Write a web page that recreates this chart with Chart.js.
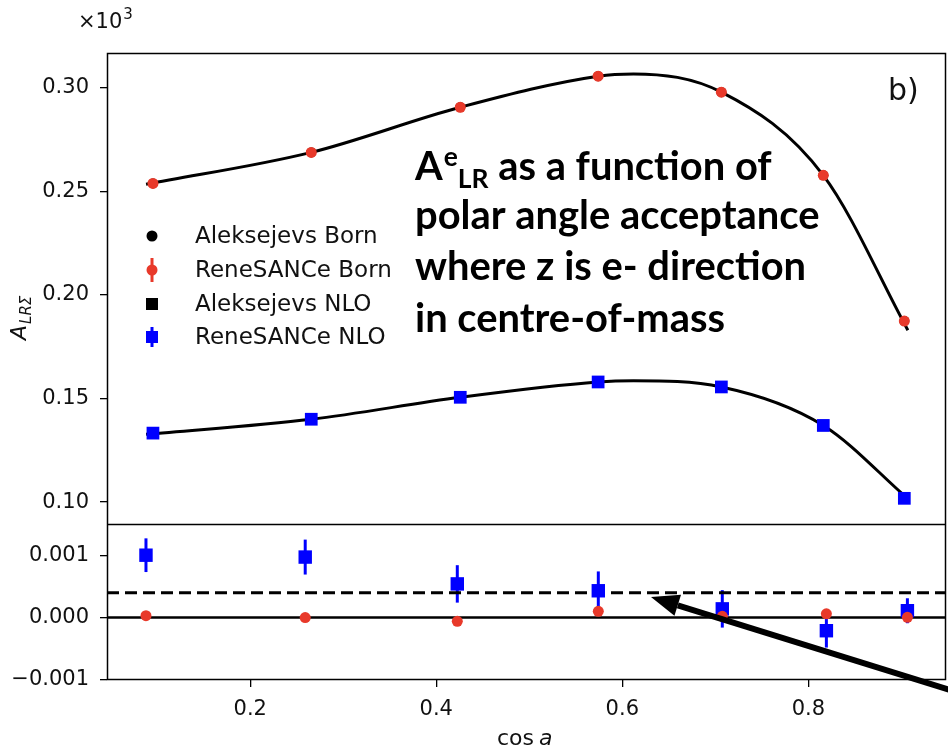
<!DOCTYPE html>
<html>
<head>
<meta charset="utf-8">
<script src="https://cdn.jsdelivr.net/npm/chart.js@4.4.1/dist/chart.umd.min.js"></script>
<style>
  html, body { margin: 0; padding: 0; background: #fff; }
  #wrap { width: 948px; height: 750px; }
</style>
</head>
<body>
<div id="wrap"><canvas id="chart" width="948" height="750"></canvas></div>
<script>
// top panel: A_LR vs cos a acceptance
const cosTop = [0.0954, 0.2656, 0.4258, 0.574, 0.7065, 0.8161, 0.9032];
const reneBorn = [0.2539, 0.2689, 0.2907, 0.3057, 0.298, 0.2578, 0.1874];
const reneNlo = [0.1333, 0.14, 0.1506, 0.158, 0.1556, 0.137, 0.1018];
// Aleksejevs points sit underneath the ReneSANCe markers
const aleksBorn = [0.2539, 0.2689, 0.2907, 0.3057, 0.298, 0.2578, 0.1874];
const aleksNlo = [0.1333, 0.14, 0.1506, 0.158, 0.1556, 0.137, 0.1018];

// smooth black curves
const cosCurve = [0.088, 0.2656, 0.4258, 0.574, 0.612, 0.7065, 0.8161, 0.907];
const bornCurve = [0.2535, 0.2689, 0.2907, 0.3057, 0.3068, 0.298, 0.2578, 0.183];
const nloCurve = [0.1327, 0.14, 0.1506, 0.158, 0.1586, 0.1556, 0.137, 0.1016];

// bottom panel: differences
const cosDiff = [0.0879, 0.2591, 0.4226, 0.5742, 0.7075, 0.8194, 0.9065];
const bornDiff = [0.00003, 0.0, -0.00006, 0.0001, 0.00002, 0.00006, 0.000005];
const nloDiff = [0.001, 0.00097, 0.00054, 0.00043, 0.00014, -0.00021, 0.00011];
const nloDiffErr = [0.00027, 0.00028, 0.0003, 0.00031, 0.0003, 0.00027, 0.0002];
const zeroLevel = 0.0;
const dashedLevel = 0.0004;

const xTicks = [0.2, 0.4, 0.6, 0.8];
const topTicks = [0.10, 0.15, 0.20, 0.25, 0.30];
const diffTicks = [-0.001, 0.0, 0.001];
const xMin = 0.046, xMax = 0.948;

const RED = '#e8392a';
const BLUE = '#0000ff';
const TICK_FONT = { family: 'DejaVu Sans', size: 21 };

const pts = (xs, ys) => xs.map((x, i) => ({ x: x, y: ys[i] }));

const legendItems = [
    { text: 'Aleksejevs Born', shape: 'circle', color: '#000', bar: 0 },
    { text: 'ReneSANCe Born', shape: 'circle', color: RED, bar: 12 },
    { text: 'Aleksejevs NLO', shape: 'square', color: '#000', bar: 0 },
    { text: 'ReneSANCe NLO', shape: 'square', color: BLUE, bar: 10 }
];

function fmtSigned(v, d) {
    const s = Math.abs(v).toFixed(d);
    return v < -1e-12 ? '\u2212' + s : s;
}

const extras = {
    id: 'extras',
    beforeDatasetsDraw(chart) {
        const ctx = chart.ctx;
        const x = chart.scales.x, yd = chart.scales.yd;
        ctx.save();
        ctx.strokeStyle = BLUE;
        ctx.lineWidth = 3;
        nloDiff.forEach((v, i) => {
            const px = x.getPixelForValue(cosDiff[i]);
            ctx.beginPath();
            ctx.moveTo(px, yd.getPixelForValue(v - nloDiffErr[i]));
            ctx.lineTo(px, yd.getPixelForValue(v + nloDiffErr[i]));
            ctx.stroke();
        });
        ctx.restore();
    },
    afterDatasetsDraw(chart) {
        const ctx = chart.ctx;
        const a = chart.chartArea;
        const sep = chart.scales.yd.top;
        ctx.save();
        // frame
        ctx.strokeStyle = '#000';
        ctx.lineWidth = 1.5;
        ctx.strokeRect(Math.round(a.left) + 0.5, Math.round(a.top) + 0.5,
            Math.round(a.right - a.left) - 1, Math.round(a.bottom - a.top) - 1);
        ctx.beginPath();
        ctx.moveTo(a.left, Math.round(sep) + 0.5);
        ctx.lineTo(a.right, Math.round(sep) + 0.5);
        ctx.stroke();

        // legend
        ctx.font = '23px "DejaVu Sans"';
        ctx.textBaseline = 'middle';
        ctx.textAlign = 'left';
        const ly = [236, 270, 304, 337];
        legendItems.forEach((it, i) => {
            const cx = 152, cy = ly[i];
            ctx.fillStyle = it.color;
            ctx.strokeStyle = it.color;
            if (it.bar) {
                ctx.lineWidth = 3;
                ctx.beginPath();
                ctx.moveTo(cx, cy - it.bar);
                ctx.lineTo(cx, cy + it.bar);
                ctx.stroke();
            }
            if (it.shape === 'circle') {
                ctx.beginPath();
                ctx.arc(cx, cy, 5.5, 0, Math.PI * 2);
                ctx.fill();
            } else {
                ctx.fillRect(cx - 6, cy - 6, 12, 12);
            }
            ctx.fillStyle = '#111';
            ctx.fillText(it.text, 195, cy + 1);
        });
        ctx.restore();
    },
    afterDraw(chart) {
        const ctx = chart.ctx;
        ctx.save();
        ctx.fillStyle = '#111';
        ctx.textBaseline = 'alphabetic';
        ctx.textAlign = 'left';

        // offset text
        ctx.font = '21px "DejaVu Sans"';
        ctx.fillText('\u00d710', 78, 28);
        const wOff = ctx.measureText('\u00d710').width;
        ctx.font = '15px "DejaVu Sans"';
        ctx.fillText('3', 78 + wOff + 1, 19);

        // panel tag
        ctx.font = '30px "DejaVu Sans"';
        ctx.fillText('b)', 888, 100);

        // y label
        ctx.save();
        ctx.translate(26, 340);
        ctx.rotate(-Math.PI / 2);
        ctx.font = 'italic 22px "DejaVu Sans"';
        ctx.fillText('A', 0, 0);
        const wA = ctx.measureText('A').width;
        ctx.font = 'italic 15px "DejaVu Sans"';
        ctx.fillText('LR\u03a3', wA + 1, 5);
        ctx.restore();

        // x label
        ctx.font = '22px "DejaVu Sans"';
        ctx.fillText('cos', 497, 745);
        const wc = ctx.measureText('cos ').width;
        ctx.font = 'italic 22px "DejaVu Sans"';
        ctx.fillText('a', 497 + wc - 2, 745);

        // annotation text
        ctx.fillStyle = '#000';
        ctx.font = 'bold 30px Lato';
        const fs = 30 * 405 / ctx.measureText('polar angle acceptance').width;
        const big = 'bold ' + fs.toFixed(1) + 'px Lato';
        const small = 'bold ' + (fs * 0.66).toFixed(1) + 'px Lato';
        let tx = 415;
        ctx.font = big;
        ctx.fillText('A', tx, 180);
        tx += ctx.measureText('A').width + 1;
        ctx.font = small;
        ctx.fillText('e', tx, 166);
        tx += ctx.measureText('e').width;
        ctx.fillText('LR', tx, 188);
        tx += ctx.measureText('LR').width;
        ctx.font = big;
        ctx.fillText(' as a function of', tx, 180);
        ctx.fillText('polar angle acceptance', 415, 229);
        ctx.fillText('where z is e- direction', 415, 280);
        ctx.fillText('in centre-of-mass', 415, 332);

        // arrow
        const x0 = 950, y0 = 690, x1 = 651, y1 = 597;
        const ang = Math.atan2(y1 - y0, x1 - x0);
        const hl = 28, hw = 11;
        const bx = x1 - hl * Math.cos(ang), by = y1 - hl * Math.sin(ang);
        ctx.strokeStyle = '#000';
        ctx.lineWidth = 6;
        ctx.beginPath();
        ctx.moveTo(x0, y0);
        ctx.lineTo(bx, by);
        ctx.stroke();
        ctx.beginPath();
        ctx.moveTo(x1, y1);
        ctx.lineTo(bx + hw * Math.sin(ang), by - hw * Math.cos(ang));
        ctx.lineTo(bx - hw * Math.sin(ang), by + hw * Math.cos(ang));
        ctx.closePath();
        ctx.fill();
        ctx.restore();
    }
};

const tickAxis = (ticks, fmt, pad) => ({
    afterBuildTicks: s => { s.ticks = ticks.map(v => ({ value: v })); },
    border: { display: false },
    grid: { drawOnChartArea: false, color: '#000', lineWidth: 1.3, tickLength: 7 },
    ticks: { font: TICK_FONT, color: '#111', callback: fmt, maxRotation: 0, padding: pad }
});

new Chart(document.getElementById('chart'), {
    type: 'scatter',
    data: {
        datasets: [
            { label: 'curveBorn', data: pts(cosCurve, bornCurve), yAxisID: 'y', showLine: true,
              borderColor: '#000', borderWidth: 3, pointRadius: 0, cubicInterpolationMode: 'monotone', order: 10 },
            { label: 'curveNlo', data: pts(cosCurve, nloCurve), yAxisID: 'y', showLine: true,
              borderColor: '#000', borderWidth: 3, pointRadius: 0, cubicInterpolationMode: 'monotone', order: 10 },
            { label: 'Aleksejevs Born', data: pts(cosTop, aleksBorn), yAxisID: 'y',
              backgroundColor: '#000', borderWidth: 0, pointRadius: 5, order: 8 },
            { label: 'Aleksejevs NLO', data: pts(cosTop, aleksNlo), yAxisID: 'y', pointStyle: 'rect',
              backgroundColor: '#000', borderWidth: 0, pointRadius: 8, order: 8 },
            { label: 'ReneSANCe Born', data: pts(cosTop, reneBorn), yAxisID: 'y',
              backgroundColor: RED, borderWidth: 0, pointRadius: 5.5, order: 5 },
            { label: 'ReneSANCe NLO', data: pts(cosTop, reneNlo), yAxisID: 'y', pointStyle: 'rect',
              backgroundColor: BLUE, borderWidth: 0, pointRadius: 9, order: 5 },
            { label: 'zero', data: pts([xMin, xMax], [zeroLevel, zeroLevel]), yAxisID: 'yd', showLine: true,
              borderColor: '#000', borderWidth: 2.5, pointRadius: 0, order: 10 },
            { label: 'dashed', data: pts([xMin, xMax], [dashedLevel, dashedLevel]), yAxisID: 'yd', showLine: true,
              borderColor: '#000', borderWidth: 3, borderDash: [12, 6], pointRadius: 0, order: 10 },
            { label: 'NLO diff', data: pts(cosDiff, nloDiff), yAxisID: 'yd', pointStyle: 'rect',
              backgroundColor: BLUE, borderWidth: 0, pointRadius: 9.5, order: 6 },
            { label: 'Born diff', data: pts(cosDiff, bornDiff), yAxisID: 'yd',
              backgroundColor: RED, borderWidth: 0, pointRadius: 5.5, order: 4 }
        ]
    },
    options: {
        responsive: false,
        animation: false,
        devicePixelRatio: 1,
        layout: { autoPadding: false, padding: { top: 53, right: 2, left: 0, bottom: 0 } },
        plugins: { legend: { display: false }, tooltip: { enabled: false } },
        scales: {
            x: Object.assign(tickAxis(xTicks, v => v.toFixed(1), 10), {
                type: 'linear', position: 'bottom', min: xMin, max: xMax,
                afterFit: s => { s.height = 70; s.paddingLeft = 0; s.paddingRight = 0; }
            }),
            yd: Object.assign(tickAxis(diffTicks, v => fmtSigned(v, 3), 11), {
                type: 'linear', position: 'left', stack: 'panels', stackWeight: 156,
                min: -0.001, max: 0.0015,
                afterFit: s => { s.width = 107; s.paddingTop = 0; s.paddingBottom = 0; }
            }),
            y: Object.assign(tickAxis(topTicks, v => v.toFixed(2), 11), {
                type: 'linear', position: 'left', stack: 'panels', stackWeight: 471,
                min: 0.0894, max: 0.3169,
                afterFit: s => { s.width = 107; s.paddingTop = 0; s.paddingBottom = 0; }
            })
        }
    },
    plugins: [extras]
});
</script>
</body>
</html>
